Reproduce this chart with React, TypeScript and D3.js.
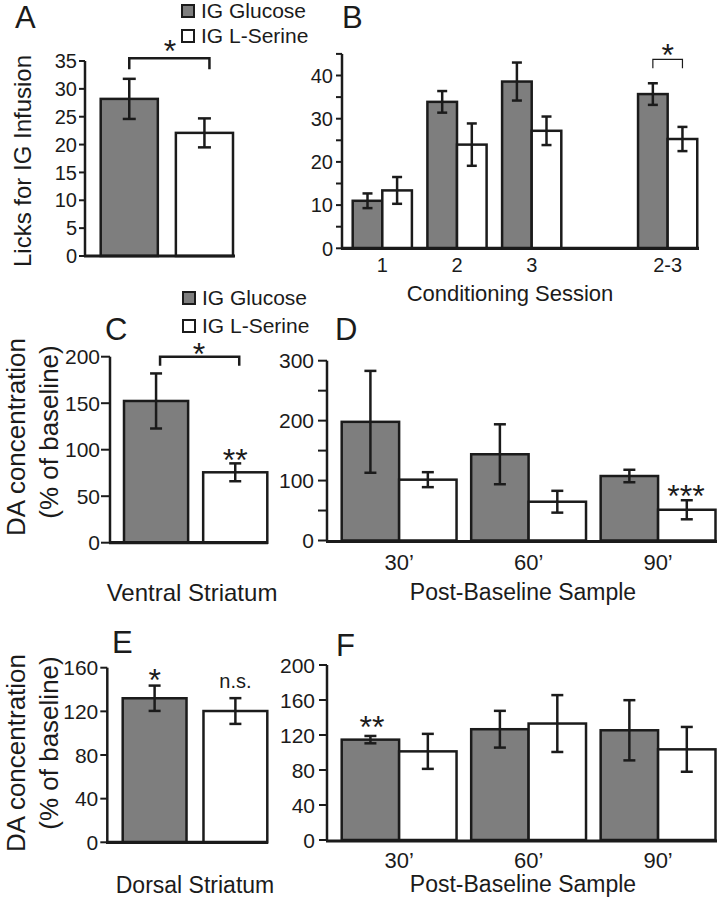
import React from "react";
import * as d3 from "d3";

// ---------- DATA ----------
const series = ["IG Glucose", "IG L-Serine"];

// Panel A: licks for IG infusion
const aMeans = [28.2, 22.1];
const aSem = [3.6, 2.6];
const aTicks = [0, 5, 10, 15, 20, 25, 30, 35];

// Panel B: conditioning sessions
const sessions = ["1", "2", "3", "2-3"];
const bGlucose = [11.0, 33.9, 38.6, 35.7];
const bGlucoseSem = [1.7, 2.5, 4.4, 2.5];
const bSerine = [13.4, 24.0, 27.2, 25.3];
const bSerineSem = [3.1, 4.9, 3.3, 2.8];
const bTicks = [0, 10, 20, 30, 40];
const bMinorTicks = [5, 15, 25, 35, 45];

// Panel C: ventral striatum
const cMeans = [152.4, 75.7];
const cSem = [29.6, 9.6];
const cTicks = [0, 50, 100, 150, 200];

// Panel D: ventral striatum per sample
const samples = ["30\u2019", "60\u2019", "90\u2019"];
const dGlucose = [198, 143.9, 107.6];
const dGlucoseSem = [85, 50, 10.4];
const dSerine = [101.5, 64.7, 51.3];
const dSerineSem = [12.5, 18.2, 15.9];
const dTicks = [0, 100, 200, 300];
const dMinorTicks = [50, 150, 250];

// Panel E: dorsal striatum
const eMeans = [132, 120.3];
const eSem = [11.6, 11.8];
const eTicks = [0, 40, 80, 120, 160];

// Panel F: dorsal striatum per sample
const fGlucose = [114.7, 126.6, 125.4];
const fGlucoseSem = [4.2, 21, 34.4];
const fSerine = [101.3, 133.1, 103.6];
const fSerineSem = [20, 32.5, 25.6];
const fTicks = [0, 40, 80, 120, 160, 200];

// ---------- STYLE ----------
const INK = "#1b1b1b";
const GRAY = "#7e7e7e";
const FONT = "'Liberation Sans', Arial, Helvetica, sans-serif";
const fills = [GRAY, "#ffffff"];

type Scale = d3.ScaleLinear<number, number>;

function YAxis({ x, y, ticks, minor = [], top, tickLen, gap, fs }:
  { x: number; y: Scale; ticks: number[]; minor?: number[]; top: number; tickLen: number; gap: number; fs: number }) {
  return (
    <g>
      <line x1={x} x2={x} y1={y(0)} y2={y(top)} stroke={INK} strokeWidth={2.5} />
      {[...ticks, ...minor].map((t) => (
        <line key={"t" + t} x1={x - tickLen} x2={x} y1={y(t)} y2={y(t)} stroke={INK} strokeWidth={2} />
      ))}
      {ticks.map((t) => (
        <text key={"l" + t} x={x - tickLen - gap} y={y(t)} dy="0.36em" textAnchor="end"
          fontSize={fs} fontFamily={FONT} fill={INK}>{t}</text>
      ))}
    </g>
  );
}

function Bar({ x, w, v, e, y, fill, cap }:
  { x: number; w: number; v: number; e: number; y: Scale; fill: string; cap: number }) {
  const cx = x + w / 2;
  return (
    <g>
      <rect x={x} y={y(v)} width={w} height={y(0) - y(v)} fill={fill} stroke={INK} strokeWidth={2.5} />
      <line x1={cx} x2={cx} y1={y(v + e)} y2={y(v - e)} stroke={INK} strokeWidth={2.5} />
      <line x1={cx - cap / 2} x2={cx + cap / 2} y1={y(v + e)} y2={y(v + e)} stroke={INK} strokeWidth={2.5} />
      <line x1={cx - cap / 2} x2={cx + cap / 2} y1={y(v - e)} y2={y(v - e)} stroke={INK} strokeWidth={2.5} />
    </g>
  );
}

function Baseline({ x1, x2, y }: { x1: number; x2: number; y: number }) {
  return <line x1={x1} x2={x2} y1={y} y2={y} stroke={INK} strokeWidth={3.2} />;
}

function Bracket({ x1, x2, y, drop, sw }: { x1: number; x2: number; y: number; drop: number; sw: number }) {
  return <path d={`M${x1},${y + drop}L${x1},${y}L${x2},${y}L${x2},${y + drop}`} fill="none" stroke={INK} strokeWidth={sw} />;
}

function Star({ x, cy, text, fs = 32 }: { x: number; cy: number; text: string; fs?: number }) {
  return <text x={x} y={cy + fs * 0.58} textAnchor="middle" fontSize={fs} fontFamily={FONT} fill={INK}>{text}</text>;
}

function Txt({ x, y, s, fs, anchor = "middle" }: { x: number; y: number; s: string; fs: number; anchor?: string }) {
  return <text x={x} y={y} textAnchor={anchor as any} fontSize={fs} fontFamily={FONT} fill={INK}>{s}</text>;
}

function Legend({ x, y1, y2 }: { x: number; y1: number; y2: number }) {
  return (
    <g>
      {[y1, y2].map((yy, i) => (
        <g key={i}>
          <rect x={x} y={yy - 13} width={12} height={12} fill={fills[i]} stroke={INK} strokeWidth={2} />
          <text x={x + 19} y={yy} fontSize={21} fontFamily={FONT} fill={INK}>{series[i]}</text>
        </g>
      ))}
    </g>
  );
}

function VLabel({ x, cy, s, fs }: { x: number; cy: number; s: string; fs: number }) {
  return <text transform={`translate(${x},${cy}) rotate(-90)`} textAnchor="middle" fontSize={fs} fontFamily={FONT} fill={INK}>{s}</text>;
}

export default function App() {
  // ----- Panel A -----
  const yA = d3.scaleLinear().domain([0, 35]).range([256, 61]);
  const xA = d3.scaleBand<string>().domain(series).range([100.7, 233]).paddingInner(0.24);

  // ----- Panel B -----
  const yB = d3.scaleLinear().domain([0, 40]).range([248.3, 75.5]);
  const bSlots = [0, 1, 2, 3.82];
  const xB = d3.scaleLinear().domain([0, 1]).range([382.3, 457]);
  const bw = 29.6;

  // ----- Panel C -----
  const yC = d3.scaleLinear().domain([0, 200]).range([542.7, 356.7]);
  const xC = d3.scaleBand<string>().domain(series).range([124, 267.3]).paddingInner(0.19);

  // ----- Panel D -----
  const yD = d3.scaleLinear().domain([0, 300]).range([540.5, 360.7]);
  const xD = d3.scaleBand<string>().domain(samples).range([341.7, 715.5]).paddingInner(0.113);
  const xDi = d3.scaleBand<string>().domain(series).range([0, xD.bandwidth()]);

  // ----- Panel E -----
  const yE = d3.scaleLinear().domain([0, 160]).range([842.3, 667.7]);
  const xE = d3.scaleBand<string>().domain(series).range([122.7, 267.3]).paddingInner(0.21);

  // ----- Panel F -----
  const yF = d3.scaleLinear().domain([0, 200]).range([840, 665]);
  const xF = d3.scaleBand<string>().domain(samples).range([341.7, 715.5]).paddingInner(0.113);
  const xFi = d3.scaleBand<string>().domain(series).range([0, xF.bandwidth()]);

  const ctr = (sc: d3.ScaleBand<string>, k: string) => (sc(k) as number) + sc.bandwidth() / 2;

  return (
    <svg width={717} height={900} style={{ position: "absolute", left: 0, top: 0, background: "#fff" }}>
      <rect x={0} y={0} width={717} height={900} fill="#fff" />

      {/* Panel A */}
      <Txt x={15} y={28} s="A" fs={31} anchor="start" />
      <Legend x={182} y1={18} y2={43} />
      <VLabel x={31} cy={161} s="Licks for IG Infusion" fs={24} />
      {series.map((s, i) => (
        <Bar key={s} x={xA(s) as number} w={xA.bandwidth()} v={aMeans[i]} e={aSem[i]} y={yA} fill={fills[i]} cap={13} />
      ))}
      <YAxis x={85} y={yA} ticks={aTicks} top={35} tickLen={6} gap={2} fs={20} />
      <Baseline x1={84} x2={235} y={yA(0)} />
      <Bracket x1={ctr(xA, series[0])} x2={ctr(xA, series[1]) + 5} y={58.3} drop={11} sw={2.5} />
      <Star x={170} cy={43} text="*" />

      {/* Panel B */}
      <Txt x={342} y={28} s="B" fs={31} anchor="start" />
      {sessions.map((s, i) => {
        const c = xB(bSlots[i]);
        return (
          <g key={s}>
            <Bar x={c - bw} w={bw} v={bGlucose[i]} e={bGlucoseSem[i]} y={yB} fill={fills[0]} cap={10} />
            <Bar x={c} w={bw} v={bSerine[i]} e={bSerineSem[i]} y={yB} fill={fills[1]} cap={10} />
            <Txt x={c} y={272} s={s} fs={20} />
          </g>
        );
      })}
      <YAxis x={342} y={yB} ticks={bTicks} minor={bMinorTicks} top={45} tickLen={6} gap={3} fs={20} />
      <Baseline x1={341} x2={699} y={yB(0)} />
      <Bracket x1={xB(bSlots[3]) - bw / 2} x2={xB(bSlots[3]) + bw / 2} y={59.3} drop={9} sw={1.2} />
      <Star x={xB(bSlots[3])} cy={47} text="*" />
      <Txt x={510} y={301} s="Conditioning Session" fs={22} />

      {/* Panel C */}
      <Txt x={105} y={340} s="C" fs={31} anchor="start" />
      <Legend x={183} y1={305} y2={333} />
      <VLabel x={25} cy={437} s="DA concentration" fs={26} />
      <VLabel x={58} cy={432} s="(% of baseline)" fs={26} />
      {series.map((s, i) => (
        <Bar key={s} x={xC(s) as number} w={xC.bandwidth()} v={cMeans[i]} e={cSem[i]} y={yC} fill={fills[i]} cap={12} />
      ))}
      <YAxis x={110} y={yC} ticks={cTicks} top={200} tickLen={9} gap={1} fs={21} />
      <Baseline x1={109} x2={268} y={yC(0)} />
      <Bracket x1={ctr(xC, series[0]) + 4} x2={ctr(xC, series[1]) + 4} y={356.7} drop={9} sw={2.5} />
      <Star x={199} cy={346} text="*" />
      <Star x={ctr(xC, series[1])} cy={452} text="**" />
      <Txt x={192} y={601} s="Ventral Striatum" fs={24} />

      {/* Panel D */}
      <Txt x={335} y={340} s="D" fs={31} anchor="start" />
      {samples.map((s, i) => {
        const gx = xD(s) as number;
        return (
          <g key={s}>
            <Bar x={gx + (xDi(series[0]) as number)} w={xDi.bandwidth()} v={dGlucose[i]} e={dGlucoseSem[i]} y={yD} fill={fills[0]} cap={12} />
            <Bar x={gx + (xDi(series[1]) as number)} w={xDi.bandwidth()} v={dSerine[i]} e={dSerineSem[i]} y={yD} fill={fills[1]} cap={12} />
            <Txt x={gx + xD.bandwidth() / 2} y={570} s={s} fs={22} />
          </g>
        );
      })}
      <YAxis x={327} y={yD} ticks={dTicks} minor={dMinorTicks} top={300} tickLen={9} gap={4} fs={21} />
      <Baseline x1={326} x2={717} y={yD(0) + 1} />
      <Star x={686} cy={488} text="***" />
      <Txt x={523} y={600} s="Post-Baseline Sample" fs={23} />

      {/* Panel E */}
      <Txt x={112} y={653} s="E" fs={31} anchor="start" />
      <VLabel x={25} cy={753} s="DA concentration" fs={26} />
      <VLabel x={58} cy={743} s="(% of baseline)" fs={26} />
      {series.map((s, i) => (
        <Bar key={s} x={xE(s) as number} w={xE.bandwidth()} v={eMeans[i]} e={eSem[i]} y={yE} fill={fills[i]} cap={12} />
      ))}
      <YAxis x={107.3} y={yE} ticks={eTicks} top={160} tickLen={7} gap={2} fs={21} />
      <Baseline x1={106} x2={268} y={yE(0)} />
      <Star x={ctr(xE, series[0])} cy={672} text="*" />
      <Txt x={ctr(xE, series[1])} y={688} s="n.s." fs={20} />
      <Txt x={195} y={893} s="Dorsal Striatum" fs={23} />

      {/* Panel F */}
      <Txt x={336} y={656} s="F" fs={31} anchor="start" />
      {samples.map((s, i) => {
        const gx = xF(s) as number;
        return (
          <g key={s}>
            <Bar x={gx + (xFi(series[0]) as number)} w={xFi.bandwidth()} v={fGlucose[i]} e={fGlucoseSem[i]} y={yF} fill={fills[0]} cap={12} />
            <Bar x={gx + (xFi(series[1]) as number)} w={xFi.bandwidth()} v={fSerine[i]} e={fSerineSem[i]} y={yF} fill={fills[1]} cap={12} />
            <Txt x={gx + xF.bandwidth() / 2} y={868} s={s} fs={22} />
          </g>
        );
      })}
      <YAxis x={327} y={yF} ticks={fTicks} top={200} tickLen={8} gap={4} fs={21} />
      <Baseline x1={326} x2={717} y={yF(0) + 1} />
      <Star x={372} cy={719} text="**" />
      <Txt x={523} y={892} s="Post-Baseline Sample" fs={23} />
    </svg>
  );
}
